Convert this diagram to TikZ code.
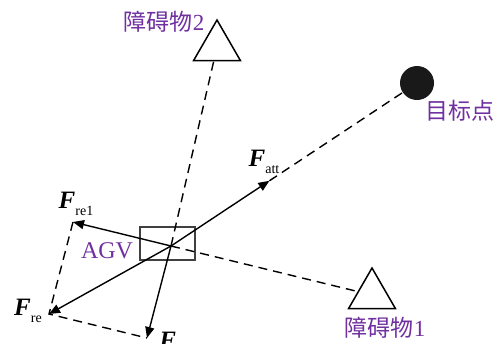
\documentclass[tikz,border=0pt]{standalone}
\usepackage{fontspec}
\setmainfont{Liberation Serif}
\newfontfamily\cjk{Noto Sans CJK SC}
\usetikzlibrary{arrows.meta,shapes.geometric,calc}
\definecolor{labelpurple}{RGB}{112,48,160}
\newcommand{\forcelabel}[1]{{\fontsize{12.5}{12.5}\selectfont\bfseries\itshape F}\raisebox{-3.5pt}{\fontsize{7}{7}\selectfont #1}}

\begin{document}
\begin{tikzpicture}[x=0.5pt, y=-0.5pt,
    force/.style={-{Triangle[length=5.5pt,width=4.5pt]}, line width=0.7pt},
    helper/.style={dash pattern=on 4.5pt off 3pt, line width=0.7pt},
    obstacle/.style={regular polygon, regular polygon sides=3, draw, line width=0.75pt, minimum size=27pt, inner sep=0pt},
    tag/.style={text=labelpurple, font=\fontsize{11.5}{12}\selectfont}]
    \useasboundingbox (0,0) rectangle (493,343);
    \clip (0,0) rectangle (493,343);

    % AGV body
    \coordinate (O) at (171,246);
    \node[draw=black!75, line width=0.65pt, minimum width=27.5pt, minimum height=16.5pt, inner sep=0pt] (agv) at (167.5,243.5) {};
    \node[tag, font=\fontsize{12}{12}\selectfont] (agvtext) at (107,251) {AGV};

    % goal and obstacles
    \node[circle, fill=black!90, minimum size=17pt, inner sep=0pt] (goal) at (417,83) {};
    \node[tag] (goaltext) at (460,111) {{\cjk 目标点}};
    \node[obstacle] (obs2) at (217,47) {};
    \node[tag] (obs2text) at (164,22) {{\cjk 障碍物}2};
    \node[obstacle] (obs1) at (372,295) {};
    \node[tag] (obs1text) at (385,328) {{\cjk 障碍物}1};

    % force tips
    \coordinate (att) at ($(O)!0.4!(goal)$);
    \coordinate (re1) at (73,222);
    \coordinate (re2) at (147,338);
    \coordinate (re) at ($(re1)+(re2)-(O)$);

    % dashed guides
    \draw[helper] (att) -- (goal);
    \draw[helper] (O) -- (obs1);
    \draw[helper] (O) -- (obs2);
    \draw[helper] (re1) -- (re) -- (re2);

    % forces
    \draw[force] (O) -- (att);
    \draw[force] (O) -- (re1);
    \draw[force] (O) -- (re2);
    \draw[force] (O) -- (re);

    % force labels
    \node (fatt) at (264,162) {\forcelabel{att}};
    \node (fre1) at (76,204) {\forcelabel{re1}};
    \node (fre) at (28,311) {\forcelabel{re}};
    \node[anchor=north west, inner sep=0pt] (fre2) at (159,332) {\forcelabel{re2}};
\end{tikzpicture}
\end{document}
